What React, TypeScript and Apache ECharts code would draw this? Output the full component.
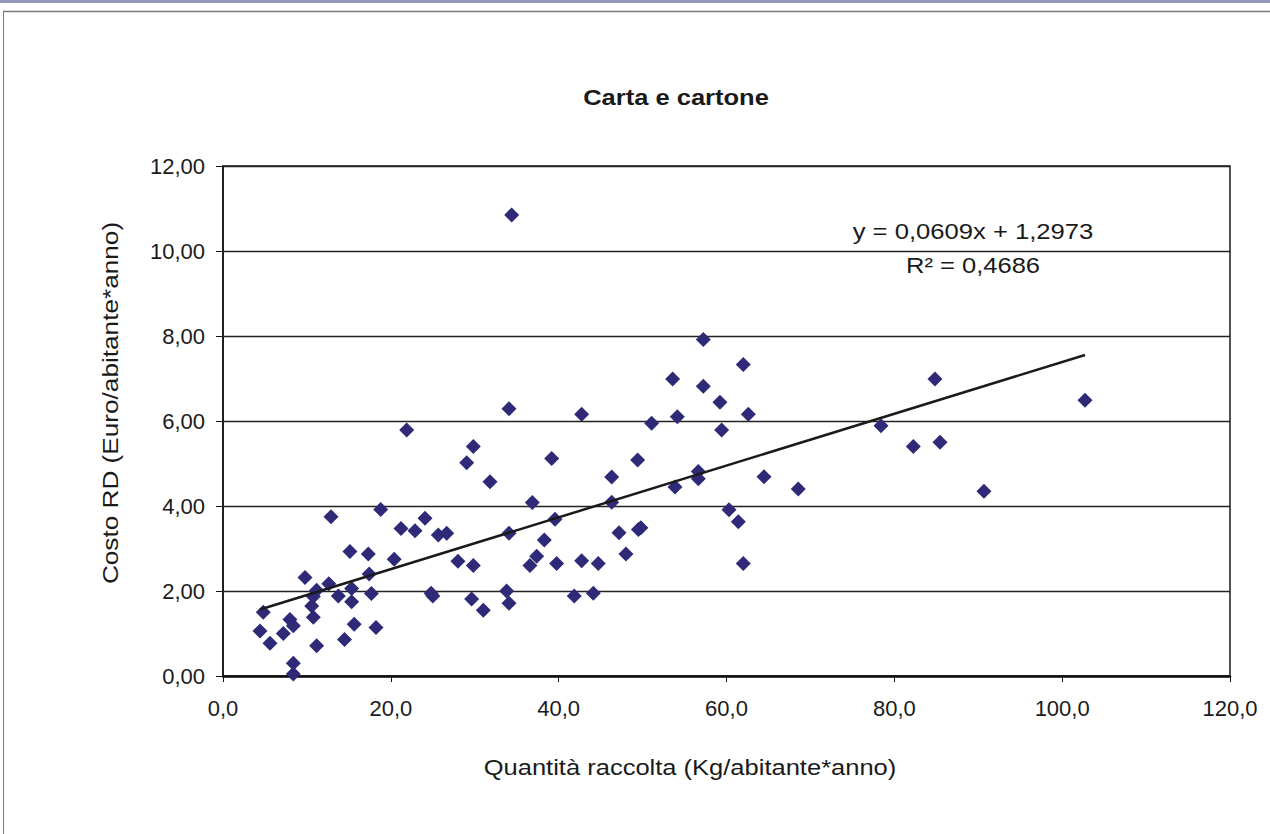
import React, { useEffect, useRef } from "react";
import * as echarts from "echarts";

const xValues: number[] = [
  4.41, 4.8, 5.6, 7.19, 7.98, 8.38, 8.38, 8.38, 9.77, 10.57,
  10.76, 10.76, 11.16, 11.16, 12.61, 12.87, 13.74, 14.48, 15.13, 15.33,
  15.33, 15.63, 17.32, 17.42, 17.68, 18.23, 18.79, 20.4, 21.21, 21.89,
  22.88, 24.07, 24.8, 25.0, 25.66, 26.66, 28.0, 29.04, 29.83, 29.63,
  29.83, 31.02, 31.82, 33.8, 34.08, 34.08, 34.08, 34.4, 36.58, 36.86,
  37.38, 38.29, 39.17, 39.56, 39.76, 41.86, 42.74, 42.74, 44.13, 44.72,
  46.32, 46.32, 47.19, 48.02, 49.41, 49.5, 49.8, 51.08, 53.58, 53.86,
  54.14, 56.64, 56.64, 57.24, 57.24, 59.22, 59.42, 60.3, 61.41, 62.0,
  62.0, 62.6, 64.47, 68.55, 78.41, 82.26, 84.84, 85.44, 90.68, 102.72,
];
const yValues: number[] = [
  1.06, 1.5, 0.77, 1.0, 1.33, 1.18, 0.3, 0.05, 2.32, 1.65,
  1.38, 1.87, 2.02, 0.71, 2.17, 3.75, 1.88, 0.86, 2.93, 2.06,
  1.75, 1.22, 2.87, 2.4, 1.94, 1.14, 3.92, 2.75, 3.47, 5.79,
  3.42, 3.71, 1.95, 1.88, 3.32, 3.36, 2.7, 5.02, 5.4, 1.81,
  2.6, 1.55, 4.57, 2.0, 1.71, 3.36, 6.29, 10.85, 2.6, 4.08,
  2.82, 3.2, 5.12, 3.69, 2.65, 1.88, 2.71, 6.16, 1.95, 2.65,
  4.68, 4.09, 3.37, 2.87, 5.08, 3.45, 3.49, 5.95, 6.99, 4.45,
  6.1, 4.81, 4.64, 7.92, 6.82, 6.44, 5.79, 3.91, 3.63, 7.33,
  2.65, 6.16, 4.69, 4.4, 5.89, 5.4, 6.99, 5.5, 4.35, 6.49,
];

const trendSlope = 0.0609;
const trendIntercept = 1.2973;
const equationText = "y = 0,0609x + 1,2973";
const r2Text = "R² = 0,4686";

const chartTitle = "Carta e cartone";
const xAxisTitle = "Quantità raccolta (Kg/abitante*anno)";
const yAxisTitle = "Costo RD (Euro/abitante*anno)";

const FONT = "'Liberation Sans', Arial, sans-serif";

export default function App() {
  const ref = useRef<HTMLDivElement>(null);

  useEffect(() => {
    if (!ref.current) return;
    const chart = echarts.init(ref.current, undefined, { renderer: "svg" });
    const points = xValues.map((x, i) => [x, yValues[i]]);
    const xMin = Math.min(...xValues);
    const xMax = Math.max(...xValues);
    const trend = [
      [xMin, trendSlope * xMin + trendIntercept],
      [xMax, trendSlope * xMax + trendIntercept],
    ];
    const centered = (text: string, x: number, y: number, sx: number, bold = false, rot = 0) => ({
      type: "text",
      x,
      y,
      scaleX: sx,
      rotation: rot,
      style: {
        text,
        font: `${bold ? "bold " : ""}22px ${FONT}`,
        fill: "#1a1a1a",
        align: "center",
        verticalAlign: "middle",
      },
    });
    chart.setOption({
      animation: false,
      backgroundColor: "#ffffff",
      textStyle: { fontFamily: FONT },
      grid: {
        left: 223,
        right: 40,
        top: 166,
        bottom: 158,
        show: true,
        borderColor: "#1a1a1a",
        borderWidth: 1.5,
      },
      xAxis: {
        type: "value",
        min: 0,
        max: 120,
        interval: 20,
        axisLine: { show: true, onZero: false, lineStyle: { color: "#111", width: 2.5 } },
        axisTick: { show: true, inside: false, length: 6, lineStyle: { color: "#111", width: 1 } },
        splitLine: { show: false },
        axisLabel: {
          margin: 21,
          fontFamily: FONT,
          fontSize: 22,
          color: "#1a1a1a",
          formatter: (v: number) => v.toFixed(1).replace(".", ","),
        },
      },
      yAxis: {
        type: "value",
        min: 0,
        max: 12,
        interval: 2,
        axisLine: { show: true, onZero: false, lineStyle: { color: "#111", width: 1.5 } },
        axisTick: { show: true, inside: false, length: 7, lineStyle: { color: "#111", width: 1 } },
        splitLine: { show: true, lineStyle: { color: "#222", width: 1.3 } },
        axisLabel: {
          margin: 18,
          fontFamily: FONT,
          fontSize: 22,
          color: "#1a1a1a",
          formatter: (v: number) => v.toFixed(2).replace(".", ","),
        },
      },
      series: [
        {
          type: "scatter",
          data: points,
          symbol: "diamond",
          symbolSize: 15,
          itemStyle: { color: "#2e2a78", opacity: 1 },
          z: 3,
        },
        {
          type: "line",
          data: trend,
          showSymbol: false,
          symbol: "none",
          lineStyle: { color: "#1a1a1a", width: 2.5 },
          z: 4,
        },
      ],
      graphic: [
        { type: "rect", shape: { x: 0, y: 0, width: 1270, height: 3 }, style: { fill: "#9296b9" } },
        { type: "line", shape: { x1: 3, y1: 11.5, x2: 1270, y2: 11.5 }, style: { stroke: "#7a7a7a", lineWidth: 1.5 } },
        { type: "line", shape: { x1: 3.5, y1: 11, x2: 3.5, y2: 834 }, style: { stroke: "#7a7a7a", lineWidth: 1 } },
        centered(chartTitle, 676, 97, 1.16, true),
        centered(equationText, 973, 231, 1.165),
        centered(r2Text, 973, 265, 1.16),
        centered(xAxisTitle, 690, 767, 1.16),
        centered(yAxisTitle, 110, 403, 1.19, false, Math.PI / 2),
      ],
    });
    return () => chart.dispose();
  }, []);

  return (
    <div
      ref={ref}
      style={{ position: "absolute", left: 0, top: 0, width: 1270, height: 834, background: "#fff" }}
    />
  );
}
